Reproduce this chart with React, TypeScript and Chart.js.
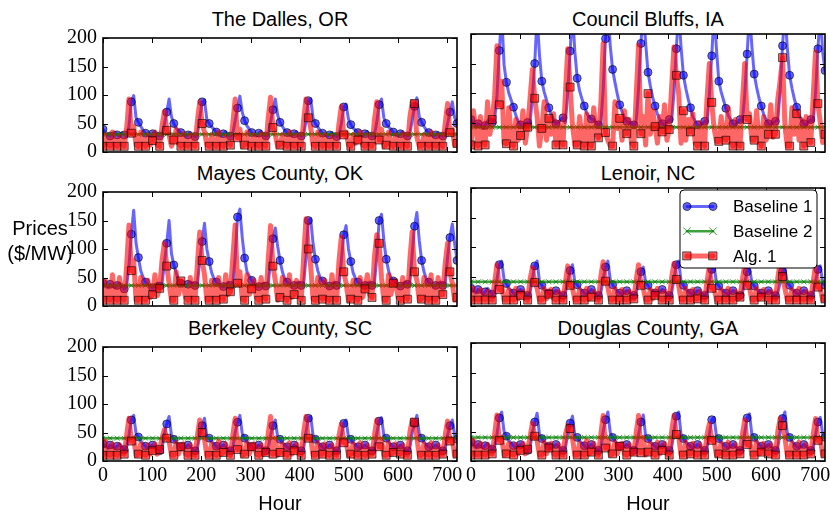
import React, { useEffect, useRef } from 'react';
import { Chart, registerables } from 'chart.js';

Chart.register(...registerables);

// ---------- data ----------
const HOUR_STEP = 4.8; // hours between samples (151 samples, 0..720 h)
const X_TICKS = [0, 100, 200, 300, 400, 500, 600, 700];
const Y_TICKS = [0, 50, 100, 150, 200];
const SERIES_NAMES = ['Baseline 1', 'Baseline 2', 'Alg. 1'];
const PANEL_TITLES = [
  'The Dalles, OR',
  'Council Bluffs, IA',
  'Mayes County, OK',
  'Lenoir, NC',
  'Berkeley County, SC',
  'Douglas County, GA',
];
// Baseline 2 is a flat price per site
const B2_LEVELS = [31, 42, 36, 41, 40, 40];

const DALLES_B1 = [
  40, 34, 30, 28, 32, 35, 30, 28, 33, 30, 28, 45, 88, 99, 60,
  52, 45, 38, 33, 30, 28, 32, 36, 30, 28, 30, 48, 70, 93, 62,
  50, 42, 38, 34, 30, 28, 30, 34, 30, 27, 30, 60, 88, 91, 57,
  50, 44, 40, 35, 30, 28, 32, 35, 30, 28, 32, 55, 77, 98, 70,
  55, 46, 40, 34, 30, 28, 33, 36, 30, 28, 30, 52, 74, 93, 65,
  52, 45, 38, 34, 30, 28, 32, 35, 30, 28, 30, 55, 90, 93, 60,
  50, 44, 38, 33, 30, 28, 30, 34, 30, 27, 30, 50, 79, 84, 58,
  48, 42, 38, 34, 30, 28, 32, 36, 30, 28, 30, 52, 83, 93, 60,
  50, 44, 40, 35, 30, 28, 32, 35, 30, 28, 32, 55, 80, 95, 62,
  52, 45, 38, 34, 30, 28, 30, 34, 30, 28, 30, 50, 70, 88, 60,
  50,
];
const DALLES_ALG = [
  10, 30, 15, 10, 35, 12, 10, 28, 15, 10, 40, 93, 33, 45, 12,
  10, 35, 15, 10, 30, 12, 20, 35, 12, 10, 45, 71, 38, 30, 10,
  21, 40, 15, 10, 32, 12, 10, 30, 15, 10, 55, 88, 50, 35, 12,
  10, 30, 15, 10, 35, 12, 10, 28, 20, 12, 50, 93, 25, 40, 10,
  12, 35, 15, 10, 30, 12, 10, 32, 15, 10, 60, 96, 43, 30, 10,
  12, 30, 15, 10, 35, 12, 10, 30, 15, 10, 55, 93, 60, 43, 12,
  10, 35, 15, 10, 30, 12, 10, 28, 15, 10, 50, 80, 30, 35, 12,
  10, 30, 15, 21, 35, 12, 10, 30, 15, 10, 55, 88, 21, 40, 10,
  12, 35, 15, 10, 30, 12, 10, 32, 15, 10, 60, 88, 85, 26, 10,
  10, 30, 15, 10, 35, 12, 10, 30, 15, 10, 50, 85, 34, 40, 12,
  15,
];

const BLUFFS_B1 = [
  55, 46, 42, 48, 44, 40, 45, 52, 58, 50, 54, 95, 172, 235, 148,
  118, 100, 88, 76, 62, 52, 46, 42, 46, 50, 48, 92, 150, 232, 165,
  120, 102, 88, 75, 62, 55, 48, 50, 55, 58, 50, 100, 171, 238, 170,
  125, 104, 90, 78, 66, 60, 56, 55, 50, 46, 48, 105, 192, 240, 180,
  140, 118, 98, 80, 68, 58, 52, 50, 49, 46, 50, 108, 184, 240, 185,
  135, 112, 92, 78, 64, 55, 48, 45, 50, 55, 52, 100, 175, 240, 178,
  130, 108, 90, 75, 60, 52, 46, 44, 48, 52, 50, 96, 163, 236, 175,
  120, 102, 88, 74, 62, 55, 48, 45, 50, 55, 52, 98, 166, 238, 180,
  132, 110, 92, 78, 64, 55, 48, 46, 50, 52, 55, 104, 180, 240, 178,
  130, 108, 90, 76, 62, 55, 48, 45, 50, 55, 52, 100, 175, 236, 170,
  138,
];
const BLUFFS_ALG = [
  12, 70, 40, 10, 60, 25, 12, 85, 30, 55, 95, 180, 80, 120, 15,
  14, 75, 30, 10, 55, 20, 28, 70, 15, 42, 90, 140, 91, 60, 10,
  40, 85, 20, 57, 30, 65, 12, 50, 25, 12, 100, 175, 110, 45, 12,
  12, 60, 25, 10, 65, 20, 10, 75, 30, 24, 80, 184, 33, 20, 10,
  10, 85, 40, 57, 20, 70, 31, 55, 15, 10, 95, 181, 31, 60, 12,
  99, 30, 70, 43, 15, 60, 34, 80, 20, 38, 110, 178, 130, 99, 15,
  70, 20, 55, 34, 65, 15, 10, 50, 20, 10, 90, 150, 84, 40, 18,
  18, 60, 30, 20, 75, 25, 10, 55, 15, 10, 85, 150, 55, 65, 20,
  20, 70, 25, 10, 60, 20, 30, 80, 25, 30, 90, 120, 160, 45, 10,
  10, 75, 30, 65, 20, 55, 10, 60, 25, 16, 95, 170, 82, 50, 16,
  30,
];

const MAYES_B1 = [
  40, 35, 32, 38, 35, 32, 36, 40, 35, 30, 35, 70, 126, 168, 110,
  85, 62, 50, 42, 38, 35, 32, 36, 40, 35, 38, 75, 110, 150, 92,
  72, 58, 45, 40, 38, 35, 38, 42, 40, 36, 38, 80, 113, 145, 100,
  78, 59, 48, 42, 38, 35, 34, 38, 42, 36, 38, 85, 156, 170, 120,
  84, 60, 52, 45, 40, 36, 34, 38, 40, 35, 38, 80, 118, 137, 105,
  80, 60, 48, 42, 38, 35, 36, 40, 42, 36, 38, 85, 150, 153, 110,
  82, 62, 50, 44, 40, 36, 35, 38, 42, 36, 38, 80, 125, 141, 100,
  78, 58, 48, 42, 38, 35, 36, 40, 42, 36, 40, 85, 150, 161, 115,
  82, 62, 50, 44, 40, 36, 35, 38, 42, 38, 40, 90, 140, 164, 115,
  80, 60, 48, 42, 38, 35, 36, 40, 42, 36, 40, 85, 120, 144, 110,
  80,
];
const MAYES_ALG = [
  10, 45, 20, 10, 55, 15, 10, 50, 20, 10, 70, 142, 62, 80, 10,
  10, 50, 20, 10, 45, 15, 20, 55, 18, 31, 80, 110, 70, 40, 10,
  10, 60, 20, 44, 35, 15, 10, 50, 20, 10, 75, 130, 80, 55, 10,
  10, 45, 20, 10, 50, 15, 12, 55, 20, 25, 85, 142, 40, 60, 12,
  10, 55, 20, 30, 45, 15, 10, 50, 20, 12, 80, 141, 70, 45, 10,
  15, 50, 20, 10, 55, 15, 20, 45, 20, 10, 85, 153, 100, 70, 12,
  10, 50, 20, 12, 45, 15, 10, 55, 20, 10, 80, 121, 60, 40, 10,
  12, 45, 20, 10, 50, 15, 30, 55, 20, 15, 85, 125, 110, 50, 10,
  10, 55, 20, 40, 45, 15, 10, 50, 20, 12, 80, 130, 60, 45, 10,
  12, 50, 20, 10, 55, 15, 10, 50, 20, 20, 75, 110, 60, 40, 10,
  15,
];

const LENOIR_B1 = [
  30, 25, 22, 28, 25, 20, 24, 30, 25, 20, 24, 45, 70, 76, 45,
  38, 30, 26, 22, 20, 24, 28, 25, 20, 18, 22, 45, 68, 76, 42,
  35, 28, 25, 22, 20, 22, 26, 24, 20, 18, 22, 42, 60, 70, 40,
  36, 30, 26, 22, 20, 24, 28, 25, 20, 18, 22, 45, 66, 76, 45,
  36, 30, 25, 22, 20, 22, 26, 24, 20, 18, 22, 40, 58, 66, 40,
  35, 28, 25, 22, 20, 24, 28, 25, 20, 18, 22, 45, 70, 76, 42,
  35, 28, 25, 22, 20, 22, 26, 24, 20, 18, 22, 42, 62, 68, 40,
  34, 28, 25, 22, 20, 22, 26, 24, 20, 18, 22, 40, 58, 65, 40,
  34, 28, 25, 22, 20, 22, 26, 24, 20, 18, 22, 40, 58, 65, 40,
  35, 28, 25, 22, 20, 22, 26, 24, 20, 18, 22, 42, 62, 68, 40,
  35,
];
const LENOIR_ALG = [
  10, 30, 12, 10, 28, 12, 10, 25, 12, 10, 40, 70, 28, 35, 10,
  10, 28, 12, 10, 30, 12, 18, 25, 12, 10, 45, 65, 40, 30, 10,
  10, 30, 12, 20, 28, 12, 10, 25, 12, 10, 40, 68, 35, 30, 10,
  10, 28, 12, 10, 30, 12, 15, 25, 12, 10, 50, 75, 42, 32, 10,
  10, 30, 12, 10, 28, 12, 10, 25, 12, 12, 45, 70, 35, 30, 10,
  10, 28, 12, 18, 30, 12, 10, 25, 12, 10, 48, 72, 45, 35, 10,
  10, 30, 12, 10, 28, 12, 12, 25, 12, 10, 42, 66, 30, 30, 10,
  10, 28, 12, 10, 30, 12, 10, 25, 12, 15, 45, 70, 35, 32, 10,
  10, 30, 12, 15, 28, 12, 10, 25, 12, 10, 48, 72, 50, 30, 10,
  10, 28, 12, 10, 30, 12, 10, 25, 12, 10, 42, 68, 32, 30, 10,
  12,
];

const BERKELEY_B1 = [
  30, 26, 22, 28, 25, 22, 26, 30, 25, 20, 24, 45, 72, 80, 48,
  42, 35, 30, 26, 22, 25, 28, 24, 20, 18, 22, 48, 65, 78, 45,
  38, 32, 28, 25, 22, 24, 28, 25, 20, 18, 22, 45, 62, 75, 42,
  40, 34, 30, 26, 22, 25, 28, 25, 20, 18, 22, 50, 68, 80, 48,
  40, 34, 28, 25, 22, 24, 28, 25, 20, 18, 22, 45, 62, 72, 42,
  38, 32, 28, 25, 22, 24, 28, 25, 20, 18, 22, 50, 75, 78, 45,
  38, 32, 28, 25, 22, 24, 28, 25, 20, 18, 22, 45, 66, 72, 42,
  38, 32, 28, 25, 22, 24, 28, 25, 20, 18, 22, 48, 70, 76, 45,
  40, 34, 28, 25, 22, 24, 28, 25, 20, 18, 22, 50, 66, 80, 48,
  40, 34, 28, 25, 22, 24, 28, 25, 20, 18, 22, 45, 62, 72, 45,
  38,
];
const BERKELEY_ALG = [
  10, 35, 12, 10, 30, 12, 10, 28, 14, 12, 45, 75, 35, 40, 10,
  12, 30, 12, 10, 28, 12, 18, 30, 12, 20, 40, 55, 40, 35, 10,
  10, 32, 12, 25, 30, 12, 10, 28, 12, 10, 45, 72, 50, 38, 10,
  10, 30, 12, 10, 35, 12, 15, 30, 12, 10, 45, 75, 20, 35, 10,
  12, 32, 12, 25, 30, 12, 10, 28, 12, 15, 48, 78, 12, 40, 10,
  15, 30, 12, 10, 32, 12, 18, 30, 12, 10, 50, 78, 40, 42, 10,
  10, 32, 12, 12, 30, 12, 10, 28, 12, 10, 45, 65, 32, 35, 10,
  12, 30, 12, 10, 32, 12, 10, 28, 12, 12, 45, 72, 25, 38, 10,
  10, 32, 12, 15, 30, 12, 12, 28, 12, 10, 50, 72, 68, 40, 10,
  10, 30, 12, 10, 32, 12, 10, 28, 12, 12, 45, 70, 35, 38, 10,
  12,
];

const DOUGLAS_B1 = [
  32, 26, 22, 28, 25, 22, 26, 30, 25, 20, 24, 45, 73, 83, 50,
  42, 35, 30, 26, 22, 25, 28, 24, 20, 18, 22, 48, 66, 81, 45,
  38, 32, 28, 25, 22, 24, 28, 25, 20, 18, 22, 45, 64, 76, 42,
  40, 34, 30, 26, 22, 25, 28, 25, 20, 18, 22, 50, 70, 83, 48,
  40, 34, 28, 25, 22, 24, 28, 25, 20, 18, 22, 45, 66, 78, 42,
  38, 32, 28, 25, 22, 24, 28, 25, 20, 18, 22, 50, 76, 83, 45,
  38, 32, 28, 25, 22, 24, 28, 25, 20, 18, 22, 45, 70, 74, 42,
  38, 32, 28, 25, 22, 24, 28, 25, 20, 18, 22, 48, 73, 80, 45,
  40, 34, 28, 25, 22, 24, 28, 25, 20, 18, 22, 50, 72, 83, 48,
  40, 34, 28, 25, 22, 24, 28, 25, 20, 18, 22, 45, 66, 74, 45,
  40,
];
const DOUGLAS_ALG = [
  10, 35, 12, 10, 30, 12, 10, 28, 14, 12, 45, 78, 35, 40, 10,
  12, 30, 12, 10, 28, 12, 18, 30, 12, 20, 40, 64, 42, 35, 10,
  10, 32, 12, 22, 30, 12, 10, 28, 12, 10, 45, 60, 55, 38, 10,
  10, 30, 12, 10, 35, 12, 15, 30, 12, 10, 45, 77, 22, 35, 10,
  12, 32, 12, 25, 30, 12, 10, 28, 12, 15, 48, 77, 14, 40, 10,
  15, 30, 12, 10, 32, 12, 18, 30, 12, 10, 50, 77, 45, 42, 10,
  10, 32, 12, 12, 30, 12, 10, 28, 12, 10, 45, 63, 35, 35, 10,
  12, 30, 12, 10, 32, 12, 10, 28, 12, 12, 45, 70, 28, 38, 10,
  10, 32, 12, 15, 30, 12, 12, 28, 12, 10, 50, 72, 60, 40, 10,
  10, 30, 12, 10, 32, 12, 10, 28, 12, 12, 45, 72, 35, 38, 10,
  12,
];

const B1_SERIES = [DALLES_B1, BLUFFS_B1, MAYES_B1, LENOIR_B1, BERKELEY_B1, DOUGLAS_B1];
const ALG_SERIES = [DALLES_ALG, BLUFFS_ALG, MAYES_ALG, LENOIR_ALG, BERKELEY_ALG, DOUGLAS_ALG];

// ---------- layout / style ----------
const COL_LEFT = [103, 471];
const ROW_TOP = [34, 188, 343];
const PLOT_W = 354;
const PLOT_H = 118;
const PAD_L = 50;
const PAD_T = 14;
const PAD_R = 20;
const PAD_B = 32;
const MARK_EVERY = 3;

const SANS = '"Liberation Sans", Arial, sans-serif';
const SERIF = '"Liberation Serif", "Times New Roman", serif';

const BLUE = 'rgba(0,0,255,0.6)';
const GREEN = 'rgba(0,128,0,0.75)';
const RED = 'rgba(255,0,0,0.6)';
const EDGE = 'rgba(0,0,0,0.6)';

const framePlugin = {
  id: 'frame',
  afterDatasetsDraw(chart: any) {
    const { ctx, chartArea: a, scales } = chart;
    const x = scales.x;
    const y = scales.y;
    ctx.save();
    ctx.strokeStyle = '#000';
    ctx.lineWidth = 1;
    const tl = 5;
    ctx.beginPath();
    X_TICKS.forEach((v) => {
      const px = Math.round(x.getPixelForValue(v)) + 0.5;
      ctx.moveTo(px, a.bottom);
      ctx.lineTo(px, a.bottom - tl);
      ctx.moveTo(px, a.top);
      ctx.lineTo(px, a.top + tl);
    });
    Y_TICKS.forEach((v) => {
      const py = Math.round(y.getPixelForValue(v)) + 0.5;
      ctx.moveTo(a.left, py);
      ctx.lineTo(a.left + tl, py);
      ctx.moveTo(a.right, py);
      ctx.lineTo(a.right - tl, py);
    });
    ctx.stroke();
    ctx.lineWidth = 1.6;
    ctx.strokeRect(a.left, a.top, a.right - a.left, a.bottom - a.top);
    ctx.restore();
  },
  afterDraw(chart: any) {
    if (!chart.options.plugins.frame || !chart.options.plugins.frame.legend) return;
    const { ctx, chartArea: a } = chart;
    const w = 137;
    const h = 78;
    const x0 = a.right - 8 - w;
    const y0 = a.top + 2;
    ctx.save();
    ctx.beginPath();
    const r = 4;
    ctx.moveTo(x0 + r, y0);
    ctx.lineTo(x0 + w - r, y0);
    ctx.arcTo(x0 + w, y0, x0 + w, y0 + r, r);
    ctx.lineTo(x0 + w, y0 + h - r);
    ctx.arcTo(x0 + w, y0 + h, x0 + w - r, y0 + h, r);
    ctx.lineTo(x0 + r, y0 + h);
    ctx.arcTo(x0, y0 + h, x0, y0 + h - r, r);
    ctx.lineTo(x0, y0 + r);
    ctx.arcTo(x0, y0, x0 + r, y0, r);
    ctx.closePath();
    ctx.fillStyle = '#fff';
    ctx.fill();
    ctx.strokeStyle = '#000';
    ctx.lineWidth = 1;
    ctx.stroke();

    const lx1 = x0 + 7;
    const lx2 = x0 + 33;
    SERIES_NAMES.forEach((name, i) => {
      const yy = y0 + 16.5 + i * 24.7;
      ctx.lineJoin = 'round';
      ctx.lineCap = 'round';
      if (i === 0) {
        ctx.strokeStyle = BLUE;
        ctx.lineWidth = 3;
        ctx.beginPath(); ctx.moveTo(lx1, yy); ctx.lineTo(lx2, yy); ctx.stroke();
        [lx1, lx2].forEach((px) => {
          ctx.beginPath(); ctx.arc(px, yy, 4, 0, Math.PI * 2);
          ctx.fillStyle = BLUE; ctx.fill();
          ctx.strokeStyle = EDGE; ctx.lineWidth = 1; ctx.stroke();
        });
      } else if (i === 1) {
        ctx.strokeStyle = GREEN;
        ctx.lineWidth = 2.5;
        ctx.beginPath(); ctx.moveTo(lx1, yy); ctx.lineTo(lx2, yy); ctx.stroke();
        ctx.lineWidth = 1;
        [lx1, lx2].forEach((px) => {
          const s = 3.5;
          ctx.beginPath();
          ctx.moveTo(px - s, yy - s); ctx.lineTo(px + s, yy + s);
          ctx.moveTo(px - s, yy + s); ctx.lineTo(px + s, yy - s);
          ctx.stroke();
        });
      } else {
        ctx.strokeStyle = RED;
        ctx.lineWidth = 5;
        ctx.beginPath(); ctx.moveTo(lx1, yy); ctx.lineTo(lx2, yy); ctx.stroke();
        [lx1, lx2].forEach((px) => {
          ctx.fillStyle = RED;
          ctx.fillRect(px - 4, yy - 4, 8, 8);
          ctx.strokeStyle = EDGE; ctx.lineWidth = 1;
          ctx.strokeRect(px - 4, yy - 4, 8, 8);
        });
      }
      ctx.fillStyle = '#000';
      ctx.font = '17px ' + SANS;
      ctx.textBaseline = 'middle';
      ctx.textAlign = 'left';
      ctx.fillText(name, x0 + 53, yy + 1);
    });
    ctx.restore();
  },
};

const toXY = (vals: number[]) => vals.map((v, i) => ({ x: i * HOUR_STEP, y: v }));
const mk = (r: number) => (c: any) => (c.dataIndex % MARK_EVERY === 0 ? r : 0);

function Panel({ idx }: { idx: number }) {
  const ref = useRef<HTMLCanvasElement | null>(null);
  const col = idx % 2;
  const row = Math.floor(idx / 2);
  const showY = col === 0;
  const showX = row === 2;
  const cw = PLOT_W + PAD_L + PAD_R;
  const ch = PLOT_H + PAD_T + PAD_B;
  const left = COL_LEFT[col] - PAD_L;
  const top = ROW_TOP[row] - PAD_T;

  useEffect(() => {
    const b1 = B1_SERIES[idx];
    const alg = ALG_SERIES[idx];
    const b2 = b1.map(() => B2_LEVELS[idx]);
    const chart = new Chart(ref.current as HTMLCanvasElement, {
      type: 'line',
      data: {
        datasets: [
          {
            label: SERIES_NAMES[2],
            data: toXY(alg),
            borderColor: RED,
            borderWidth: 5,
            borderJoinStyle: 'round',
            borderCapStyle: 'round',
            pointStyle: 'rect',
            pointRadius: mk(5.6),
            pointBackgroundColor: RED,
            pointBorderColor: EDGE,
            pointBorderWidth: 1,
            order: 0,
          },
          {
            label: SERIES_NAMES[1],
            data: toXY(b2),
            borderColor: GREEN,
            borderWidth: 2.5,
            pointStyle: 'crossRot',
            pointRadius: mk(3.5),
            pointBorderColor: GREEN,
            pointBackgroundColor: GREEN,
            pointBorderWidth: 1,
            order: 1,
          },
          {
            label: SERIES_NAMES[0],
            data: toXY(b1),
            borderColor: BLUE,
            borderWidth: 3,
            borderJoinStyle: 'round',
            borderCapStyle: 'round',
            pointStyle: 'circle',
            pointRadius: mk(4),
            pointBackgroundColor: BLUE,
            pointBorderColor: EDGE,
            pointBorderWidth: 1,
            order: 2,
          },
        ],
      } as any,
      options: {
        responsive: false,
        animation: false,
        devicePixelRatio: 1,
        events: [],
        layout: { padding: { top: PAD_T, right: PAD_R, left: 0, bottom: 0 } },
        plugins: {
          legend: { display: false },
          tooltip: { enabled: false },
          frame: { legend: idx === 3 },
        } as any,
        elements: { line: { tension: 0, fill: false } },
        scales: {
          x: {
            type: 'linear',
            min: 0,
            max: 720,
            afterBuildTicks: (s: any) => {
              s.ticks = X_TICKS.map((v) => ({ value: v }));
            },
            afterFit: (s: any) => {
              s.height = PAD_B;
            },
            grid: { display: false, drawTicks: false },
            border: { display: false },
            ticks: {
              display: showX,
              color: '#000',
              padding: 3,
              maxRotation: 0,
              autoSkip: false,
              font: { family: SERIF, size: 20 },
            },
          },
          y: {
            type: 'linear',
            min: 0,
            max: 200,
            afterBuildTicks: (s: any) => {
              s.ticks = Y_TICKS.map((v) => ({ value: v }));
            },
            afterFit: (s: any) => {
              s.width = PAD_L;
            },
            grid: { display: false, drawTicks: false },
            border: { display: false },
            ticks: {
              display: showY,
              color: '#000',
              padding: 6,
              font: { family: SERIF, size: 20 },
            },
          },
        },
      } as any,
      plugins: [framePlugin as any],
    });
    return () => chart.destroy();
  }, [idx]);

  return (
    <canvas
      ref={ref}
      width={cw}
      height={ch}
      style={{ position: 'absolute', left, top, width: cw, height: ch }}
    />
  );
}

export default function App() {
  return (
    <div
      style={{
        position: 'absolute',
        left: 0,
        top: 0,
        width: 830,
        height: 514,
        background: '#fff',
        overflow: 'hidden',
        fontFamily: SANS,
      }}
    >
      {PANEL_TITLES.map((t, i) => (
        <div
          key={'t' + i}
          style={{
            position: 'absolute',
            left: COL_LEFT[i % 2],
            top: ROW_TOP[Math.floor(i / 2)] - 25,
            width: PLOT_W,
            textAlign: 'center',
            fontSize: 20,
            lineHeight: '20px',
            color: '#000',
            whiteSpace: 'nowrap',
          }}
        >
          {t}
        </div>
      ))}
      {PANEL_TITLES.map((_, i) => (
        <Panel key={'p' + i} idx={i} />
      ))}
      <div
        style={{
          position: 'absolute',
          left: 0,
          top: 216,
          width: 80,
          textAlign: 'center',
          fontSize: 20,
          lineHeight: '25px',
          color: '#000',
        }}
      >
        Prices
        <br />
        ($/MW)
      </div>
      {[0, 1].map((c) => (
        <div
          key={'h' + c}
          style={{
            position: 'absolute',
            left: COL_LEFT[c],
            top: 493,
            width: PLOT_W,
            textAlign: 'center',
            fontSize: 20,
            lineHeight: '20px',
            color: '#000',
          }}
        >
          Hour
        </div>
      ))}
    </div>
  );
}
